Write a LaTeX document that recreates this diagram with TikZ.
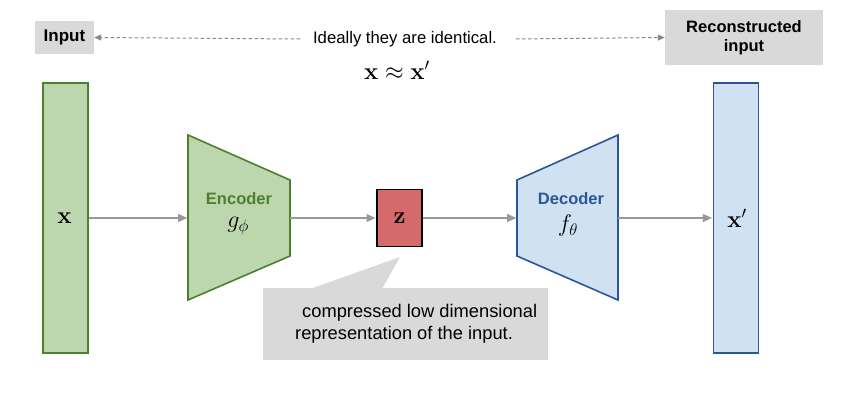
\RequirePackage{fix-cm}
\documentclass[tikz,border=0pt]{standalone}
\usepackage[no-math]{fontspec}
\setmainfont{Liberation Sans}
\usepackage{amsmath}
\usetikzlibrary{arrows.meta}
\definecolor{gfill}{HTML}{BCD6AD}
\definecolor{gline}{HTML}{4E7F2E}
\definecolor{bfill}{HTML}{D0E1F1}
\definecolor{bline}{HTML}{2B5797}
\definecolor{zfill}{HTML}{D46A6A}
\definecolor{graybox}{HTML}{D9D9D9}
\definecolor{arrowgray}{HTML}{999999}
\definecolor{dashgray}{HTML}{888888}
\begin{document}
\begin{tikzpicture}[x=1pt,y=-1pt,
  gbar/.style={draw=gline,fill=gfill,line width=1.6pt,minimum width=45pt,minimum height=270pt,inner sep=0pt},
  bbar/.style={draw=bline,fill=bfill,line width=1.6pt,minimum width=45pt,minimum height=270pt,inner sep=0pt},
  conn/.style={draw=arrowgray,line width=1.3pt,-{Triangle[length=9pt,width=8pt]},shorten >=0.8pt},
  dconn/.style={draw=dashgray,line width=1pt,dash pattern=on 3.5pt off 2.5pt,-{Triangle[length=7pt,width=6pt]}},
  mathlbl/.style={font=\fontsize{24}{26}\selectfont},
  boldlbl/.style={font=\fontsize{16.5}{19}\selectfont\bfseries},
]
\useasboundingbox (0,0) rectangle (844,409);
% bars
\node[gbar] (xin) at (65.5,218) {};
\node[mathlbl] at ([xshift=-1pt]xin.center) {$\mathbf{x}$};
\node[bbar] (xout) at (736,218) {};
\node[mathlbl] at ([xshift=1pt]xout.center) {$\mathbf{x}'$};
% encoder
\coordinate (e1) at (188,135);
\coordinate (e2) at (290,180);
\coordinate (e3) at (290,256);
\coordinate (e4) at (188,300);
\draw[draw=gline,fill=gfill,line width=1.6pt,line join=miter] (e1) -- (e2) -- (e3) -- (e4) -- cycle;
\coordinate (ein) at (188,218);
\coordinate (eout) at (290,218);
\node[boldlbl,text=gline] (enc) at (239,199) {Encoder};
\node[mathlbl] (g) at (238,226) {$g_{\phi}$};
% decoder
\coordinate (d1) at (517,180);
\coordinate (d2) at (618,135);
\coordinate (d3) at (618,300);
\coordinate (d4) at (517,256);
\draw[draw=bline,fill=bfill,line width=1.6pt,line join=miter] (d1) -- (d2) -- (d3) -- (d4) -- cycle;
\coordinate (din) at (517,218);
\coordinate (dout) at (618,218);
\node[boldlbl,text=bline] (dec) at (571,199) {Decoder};
\node[mathlbl] (f) at (568,226) {$f_{\theta}$};
% callout
\coordinate (tip) at (400,257);
\fill[graybox] (263,288) rectangle (548,360);
\fill[graybox] (310,289) -- (tip) -- (382,289) -- cycle;
\node[align=left,anchor=west,font=\fontsize{18.3}{21.5}\selectfont,inner sep=0pt] (comp) at (295,324) {\hspace*{7pt}compressed low dimensional\\representation of the input.};
% z
\node[draw=black,fill=zfill,line width=1.4pt,minimum width=45pt,minimum height=57pt,inner sep=0pt] (z) at (399.5,218) {};
\node[mathlbl] at (z.center) {$\mathbf{z}$};
% connectors
\draw[conn] (xin.east) -- (ein);
\draw[conn] (eout) -- (z.west);
\draw[conn] (z.east) -- (din);
\draw[conn] (dout) -- (xout.west);
% top labels
\node[fill=graybox,boldlbl,font=\fontsize{17}{19}\selectfont\bfseries,minimum width=59pt,minimum height=33pt,inner sep=0pt] (inp) at (64.5,37.5) {Input};
\node[fill=graybox,boldlbl,align=center,minimum width=158pt,minimum height=55pt,inner sep=0pt] (rec) at (744,37.5) {Reconstructed\\input};
\node[font=\fontsize{16.7}{19}\selectfont] (ideal) at (405,39) {Ideally they are identical.};
\node[mathlbl] (approx) at (397,70) {$\mathbf{x}\approx\mathbf{x}'$};
\coordinate (l0) at (300,39);
\coordinate (r0) at (516,39);
\draw[dconn] (l0) -- (inp.east);
\draw[dconn] (r0) -- (rec.west);
\end{tikzpicture}
\end{document}
